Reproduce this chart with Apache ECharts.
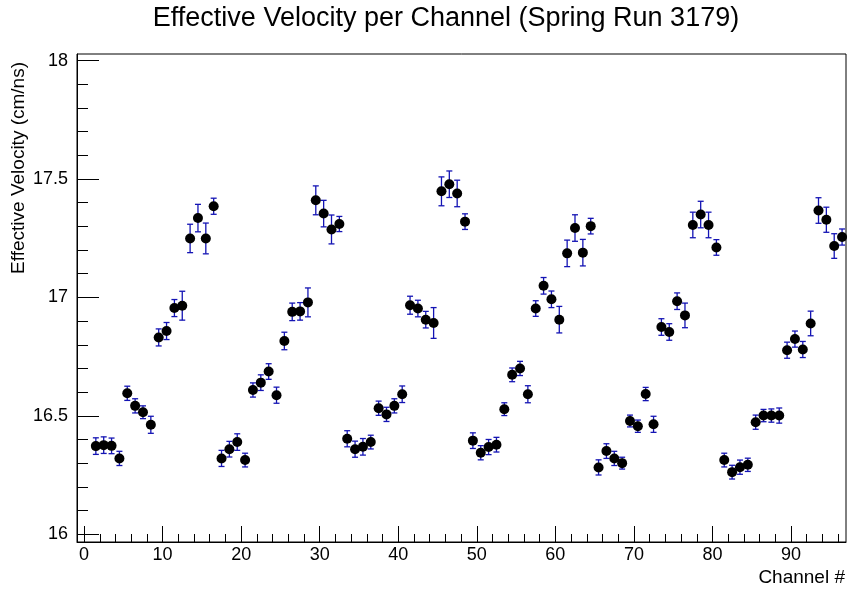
<!DOCTYPE html>
<html>
<head>
<meta charset="utf-8">
<title>Effective Velocity per Channel</title>
<script src="https://cdn.jsdelivr.net/npm/echarts@6/dist/echarts.min.js"></script>
<style>
  html, body { margin: 0; padding: 0; background: #fff; }
  #chart { width: 848px; height: 591px; }
</style>
</head>
<body>
<div id="chart"></div>
<script>
// bin centres of the channels
const channels = [
  1.5, 2.5, 3.5, 4.5, 5.5, 6.5, 7.5, 8.5, 9.5, 10.5, 11.5, 12.5, 13.5, 14.5, 15.5, 16.5,
  17.5, 18.5, 19.5, 20.5, 21.5, 22.5, 23.5, 24.5, 25.5, 26.5, 27.5, 28.5, 29.5, 30.5, 31.5, 32.5,
  33.5, 34.5, 35.5, 36.5, 37.5, 38.5, 39.5, 40.5, 41.5, 42.5, 43.5, 44.5, 45.5, 46.5, 47.5, 48.5,
  49.5, 50.5, 51.5, 52.5, 53.5, 54.5, 55.5, 56.5, 57.5, 58.5, 59.5, 60.5, 61.5, 62.5, 63.5, 64.5,
  65.5, 66.5, 67.5, 68.5, 69.5, 70.5, 71.5, 72.5, 73.5, 74.5, 75.5, 76.5, 77.5, 78.5, 79.5, 80.5,
  81.5, 82.5, 83.5, 84.5, 85.5, 86.5, 87.5, 88.5, 89.5, 90.5, 91.5, 92.5, 93.5, 94.5, 95.5, 96.5
];

// effective velocity (cm/ns)
const velocity = [
  16.372, 16.376, 16.373, 16.320, 16.595, 16.542, 16.515, 16.462, 16.831, 16.858, 16.955, 16.965, 17.249, 17.335, 17.249, 17.385,
  16.320, 16.359, 16.389, 16.313, 16.609, 16.640, 16.687, 16.587, 16.816, 16.939, 16.941, 16.979, 17.410, 17.354, 17.287, 17.310,
  16.403, 16.359, 16.369, 16.389, 16.532, 16.506, 16.542, 16.591, 16.967, 16.953, 16.906, 16.892, 17.448, 17.478, 17.439, 17.320,
  16.395, 16.344, 16.368, 16.378, 16.528, 16.673, 16.700, 16.591, 16.953, 17.049, 16.992, 16.906, 17.186, 17.293, 17.189, 17.301,
  16.282, 16.351, 16.320, 16.300, 16.478, 16.456, 16.592, 16.464, 16.875, 16.854, 16.984, 16.924, 17.306, 17.350, 17.306, 17.211,
  16.313, 16.262, 16.283, 16.293, 16.473, 16.501, 16.501, 16.501, 16.777, 16.824, 16.780, 16.890, 17.367, 17.328, 17.217, 17.255
];

// error (half length of the bar)
const velocityErr = [
  0.035, 0.035, 0.033, 0.030, 0.030, 0.030, 0.027, 0.036, 0.036, 0.036, 0.036, 0.061, 0.060, 0.058, 0.065, 0.034,
  0.034, 0.033, 0.035, 0.029, 0.030, 0.033, 0.033, 0.034, 0.037, 0.037, 0.037, 0.061, 0.061, 0.056, 0.061, 0.032,
  0.034, 0.034, 0.035, 0.029, 0.030, 0.030, 0.030, 0.035, 0.038, 0.035, 0.035, 0.065, 0.061, 0.056, 0.056, 0.033,
  0.033, 0.030, 0.032, 0.031, 0.027, 0.029, 0.030, 0.036, 0.033, 0.035, 0.035, 0.056, 0.056, 0.056, 0.056, 0.033,
  0.032, 0.031, 0.030, 0.025, 0.025, 0.026, 0.028, 0.034, 0.035, 0.035, 0.035, 0.052, 0.054, 0.056, 0.054, 0.033,
  0.029, 0.029, 0.030, 0.028, 0.030, 0.026, 0.028, 0.032, 0.034, 0.034, 0.034, 0.052, 0.054, 0.053, 0.052, 0.034
];

// axis ticks
const xMajorTicks = [0, 10, 20, 30, 40, 50, 60, 70, 80, 90];
const xMinorTicks = [2, 4, 6, 8, 12, 14, 16, 18, 22, 24, 26, 28, 32, 34, 36, 38, 42, 44, 46, 48,
  52, 54, 56, 58, 62, 64, 66, 68, 72, 74, 76, 78, 82, 84, 86, 88, 92, 94, 96];
const yMajorTicks = [16, 16.5, 17, 17.5, 18];
const yMinorTicks = [16.1, 16.2, 16.3, 16.4, 16.6, 16.7, 16.8, 16.9, 17.1, 17.2, 17.3, 17.4,
  17.6, 17.7, 17.8, 17.9];

const FONT = "'Liberation Sans', Arial, Helvetica, sans-serif";
const X_MIN = -0.9, X_MAX = 97;
const Y_MIN = 15.967, Y_MAX = 18.028;

const chart = echarts.init(document.getElementById('chart'), null, {renderer: 'canvas'});

const points = channels.map((c, i) => [c, velocity[i]]);
const errBars = channels.map((c, i) => [c, velocity[i], velocityErr[i]]);

chart.setOption({
  animation: false,
  backgroundColor: '#fff',
  grid: {
    left: 77, right: 2, top: 54, bottom: 49,
    show: true,
    borderColor: '#000',
    borderWidth: 1
  },
  xAxis: [
    {
      type: 'value', min: X_MIN, max: X_MAX, position: 'bottom',
      axisLine: {show: true, onZero: false, lineStyle: {color: '#000', width: 1}},
      axisTick: {show: true, inside: true, length: 16, customValues: xMajorTicks, lineStyle: {color: '#000'}},
      axisLabel: {show: true, customValues: xMajorTicks, margin: 4, fontSize: 18, color: '#000', fontFamily: FONT},
      splitLine: {show: false}
    },
    {
      // minor ticks only
      type: 'value', min: X_MIN, max: X_MAX, position: 'bottom',
      axisLine: {show: false, onZero: false},
      axisTick: {show: true, inside: true, length: 8, customValues: xMinorTicks, lineStyle: {color: '#000'}},
      axisLabel: {show: false},
      splitLine: {show: false}
    }
  ],
  yAxis: [
    {
      type: 'value', min: Y_MIN, max: Y_MAX, position: 'left',
      axisLine: {show: true, onZero: false, lineStyle: {color: '#000', width: 1}},
      axisTick: {show: true, inside: true, length: 22, customValues: yMajorTicks, lineStyle: {color: '#000'}},
      axisLabel: {show: true, customValues: yMajorTicks, margin: 9, fontSize: 18, color: '#000', fontFamily: FONT},
      splitLine: {show: false}
    },
    {
      type: 'value', min: Y_MIN, max: Y_MAX, position: 'left',
      axisLine: {show: false, onZero: false},
      axisTick: {show: true, inside: true, length: 11, customValues: yMinorTicks, lineStyle: {color: '#000'}},
      axisLabel: {show: false},
      splitLine: {show: false}
    }
  ],
  graphic: [
    {
      type: 'text', x: 446, y: 19, silent: true,
      style: {text: 'Effective Velocity per Channel (Spring Run 3179)', fill: '#000',
        font: '27px ' + FONT, align: 'center', verticalAlign: 'middle'}
    },
    {
      type: 'text', x: 19, y: 62, rotation: Math.PI / 2, silent: true,
      style: {text: 'Effective Velocity (cm/ns)', fill: '#000',
        font: '19px ' + FONT, align: 'right', verticalAlign: 'middle'}
    },
    {
      type: 'text', x: 845, y: 578, silent: true,
      style: {text: 'Channel #', fill: '#000',
        font: '19px ' + FONT, align: 'right', verticalAlign: 'middle'}
    }
  ],
  series: [
    {
      // error bars
      type: 'custom',
      xAxisIndex: 0, yAxisIndex: 0,
      data: errBars,
      z: 2,
      renderItem: function (params, api) {
        const x = api.value(0), v = api.value(1), e = api.value(2);
        const lo = api.coord([x, v - e]);
        const hi = api.coord([x, v + e]);
        const cap = 3;
        const st = {stroke: '#1414b4', lineWidth: 1.3};
        return {
          type: 'group',
          children: [
            {type: 'line', shape: {x1: lo[0], y1: lo[1], x2: hi[0], y2: hi[1]}, style: st},
            {type: 'line', shape: {x1: lo[0] - cap, y1: lo[1], x2: lo[0] + cap, y2: lo[1]}, style: st},
            {type: 'line', shape: {x1: hi[0] - cap, y1: hi[1], x2: hi[0] + cap, y2: hi[1]}, style: st}
          ]
        };
      }
    },
    {
      type: 'scatter',
      xAxisIndex: 0, yAxisIndex: 0,
      data: points,
      symbol: 'circle',
      symbolSize: 10,
      z: 3,
      itemStyle: {color: '#000', opacity: 1}
    }
  ]
});

window.addEventListener('resize', () => {
  chart.resize()
})
</script>
</body>
</html>
